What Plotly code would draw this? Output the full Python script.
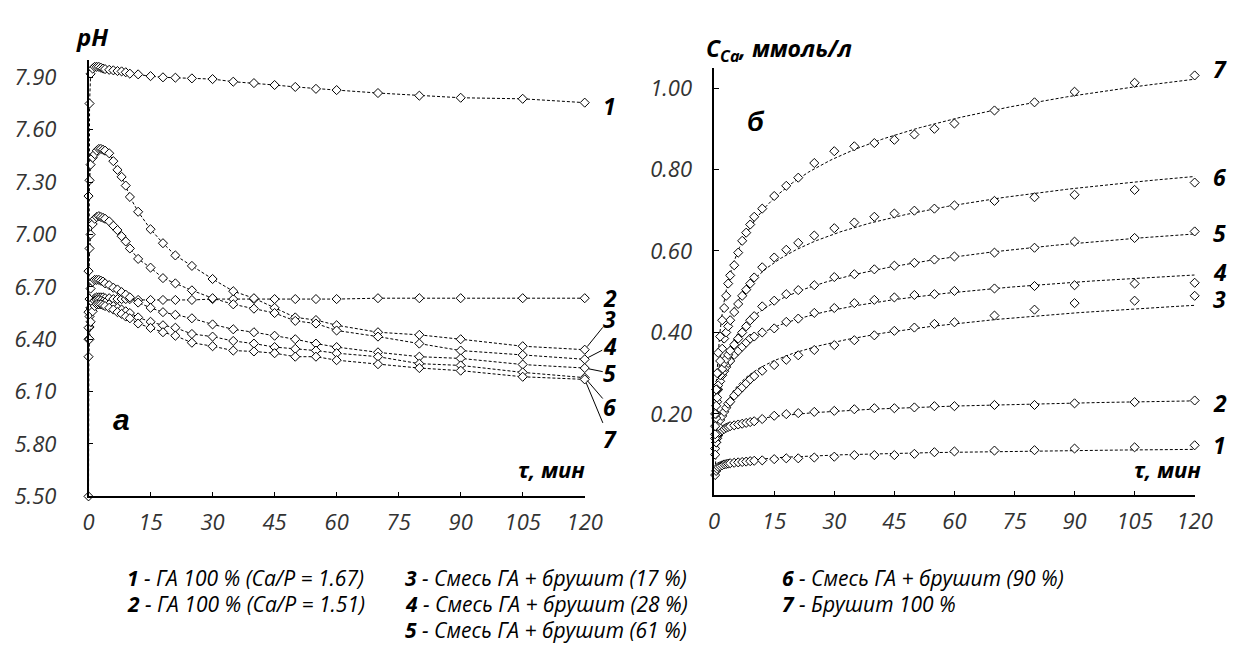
import numpy as np
import plotly.graph_objects as go

# ---------------- data ----------------
T_PH = [0, 0.25, 0.5, 1, 1.5, 2, 2.5, 3, 3.5, 4, 5, 6, 7, 8, 9, 10, 12, 15, 18, 21, 25,
        30, 35, 40, 45, 50, 55, 60, 70, 80, 90, 105, 120]

PH_1 = [5.50, 7.75, 7.92, 7.95, 7.96, 7.96, 7.96, 7.955, 7.95, 7.947, 7.943, 7.94, 7.936, 7.934,
        7.929, 7.921, 7.917, 7.907, 7.90, 7.898, 7.894, 7.89, 7.875, 7.867, 7.856, 7.845, 7.834,
        7.827, 7.81, 7.795, 7.783, 7.777, 7.755]
PH_2 = [6.40, 6.47, 6.58, 6.62, 6.635, 6.64, 6.64, 6.64, 6.64, 6.635, 6.635, 6.63, 6.63, 6.63,
        6.63, 6.63, 6.625, 6.625, 6.625, 6.625, 6.625, 6.63, 6.63, 6.63, 6.63, 6.63, 6.63,
        6.63, 6.635, 6.635, 6.635, 6.635, 6.635]
PH_3 = [7.22, 7.31, 7.40, 7.44, 7.46, 7.48, 7.49, 7.49, 7.485, 7.48, 7.465, 7.42, 7.37, 7.33,
        7.28, 7.215, 7.13, 7.03, 6.95, 6.88, 6.82, 6.745, 6.675, 6.635, 6.58, 6.525, 6.51,
        6.48, 6.44, 6.425, 6.40, 6.36, 6.34]
PH_4 = [6.79, 6.92, 7.00, 7.06, 7.09, 7.10, 7.105, 7.10, 7.095, 7.09, 7.075, 7.05, 7.025, 6.99,
        6.96, 6.92, 6.86, 6.81, 6.75, 6.72, 6.68, 6.635, 6.60, 6.575, 6.55, 6.505, 6.49,
        6.45, 6.415, 6.375, 6.335, 6.31, 6.285]
PH_5 = [6.555, 6.63, 6.69, 6.73, 6.74, 6.74, 6.74, 6.735, 6.73, 6.72, 6.71, 6.695, 6.685, 6.67,
        6.655, 6.64, 6.61, 6.58, 6.555, 6.54, 6.52, 6.485, 6.457, 6.44, 6.42, 6.40, 6.375,
        6.355, 6.325, 6.30, 6.29, 6.255, 6.235]
PH_6 = [6.466, 6.53, 6.58, 6.61, 6.62, 6.625, 6.625, 6.62, 6.615, 6.61, 6.60, 6.59, 6.58, 6.57,
        6.56, 6.55, 6.525, 6.50, 6.48, 6.466, 6.43, 6.415, 6.39, 6.375, 6.355, 6.345, 6.335,
        6.32, 6.30, 6.26, 6.25, 6.21, 6.18]
PH_7 = [6.30, 6.40, 6.50, 6.56, 6.59, 6.60, 6.60, 6.60, 6.595, 6.59, 6.58, 6.57, 6.555, 6.545,
        6.53, 6.52, 6.49, 6.465, 6.44, 6.42, 6.38, 6.36, 6.335, 6.33, 6.32, 6.30, 6.30,
        6.28, 6.257, 6.235, 6.22, 6.185, 6.17]

T_CA = [0.25, 0.5, 0.75, 1, 1.5, 2, 2.5, 3, 3.5, 4, 5, 6, 7, 8, 9, 10, 12, 15, 18, 21, 25,
        30, 35, 40, 45, 50, 55, 60, 70, 80, 90, 105, 120]

CA_1 = [0.05, 0.06, 0.065, 0.07, 0.072, 0.074, 0.076, 0.077, 0.078, 0.079, 0.08, 0.081, 0.082,
        0.083, 0.084, 0.085, 0.086, 0.089, 0.091, 0.091, 0.093, 0.095, 0.099, 0.099, 0.099,
        0.102, 0.106, 0.108, 0.110, 0.111, 0.115, 0.118, 0.123]
CA_2 = [0.115, 0.13, 0.14, 0.147, 0.155, 0.16, 0.163, 0.166, 0.168, 0.17, 0.172, 0.174, 0.176,
        0.178, 0.18, 0.182, 0.1875, 0.1955, 0.1995, 0.202, 0.205, 0.2075, 0.2115, 0.214, 0.214,
        0.216, 0.219, 0.219, 0.222, 0.222, 0.226, 0.229, 0.233]
CA_3 = [0.10, 0.13, 0.15, 0.17, 0.185, 0.195, 0.205, 0.215, 0.225, 0.23, 0.245, 0.255, 0.265,
        0.275, 0.285, 0.293, 0.306, 0.32, 0.333, 0.344, 0.357, 0.369, 0.381, 0.393, 0.404,
        0.412, 0.421, 0.425, 0.4415, 0.456, 0.472, 0.478, 0.49]
CA_4 = [0.14, 0.19, 0.23, 0.26, 0.28, 0.295, 0.305, 0.315, 0.325, 0.33, 0.345, 0.355, 0.365,
        0.375, 0.385, 0.39, 0.40, 0.41, 0.426, 0.434, 0.448, 0.46, 0.472, 0.48, 0.486,
        0.492, 0.494, 0.502, 0.508, 0.514, 0.516, 0.52, 0.522]
CA_5 = [0.15, 0.20, 0.24, 0.27, 0.295, 0.31, 0.325, 0.335, 0.345, 0.355, 0.37, 0.385, 0.40,
        0.415, 0.43, 0.44, 0.464, 0.478, 0.494, 0.504, 0.516, 0.536, 0.543, 0.555, 0.564,
        0.571, 0.579, 0.5865, 0.596, 0.608, 0.623, 0.632, 0.648]
CA_6 = [0.17, 0.22, 0.26, 0.30, 0.33, 0.36, 0.385, 0.40, 0.415, 0.43, 0.45, 0.47, 0.49,
        0.505, 0.52, 0.535, 0.56, 0.584, 0.603, 0.62, 0.638, 0.656, 0.67, 0.684, 0.692,
        0.699, 0.704, 0.712, 0.723, 0.732, 0.738, 0.75, 0.768]
CA_7 = [0.20, 0.26, 0.30, 0.35, 0.39, 0.43, 0.46, 0.49, 0.52, 0.54, 0.565, 0.596, 0.625,
        0.645, 0.665, 0.684, 0.704, 0.735, 0.76, 0.78, 0.816, 0.845, 0.857, 0.865, 0.873,
        0.886, 0.90, 0.913, 0.945, 0.965, 0.991, 1.013, 1.031]

X_TICKS = [0, 15, 30, 45, 60, 75, 90, 105, 120]
PH_TICKS = [5.5, 5.8, 6.1, 6.4, 6.7, 7.0, 7.3, 7.6, 7.9]
CA_TICKS = [0.2, 0.4, 0.6, 0.8, 1.0]

SERIES_NUMS = ["1", "2", "3", "4", "5", "6", "7"]
LEGEND_ROWS = [
    ("1", "ГА 100 % (Ca/P = 1.67)"),
    ("2", "ГА 100 % (Ca/P = 1.51)"),
    ("3", "Смесь ГА + брушит (17 %)"),
    ("4", "Смесь ГА + брушит (28 %)"),
    ("5", "Смесь ГА + брушит (61 %)"),
    ("6", "Смесь ГА + брушит (90 %)"),
    ("7", "Брушит 100 %"),
]

PH_SERIES = [PH_1, PH_2, PH_3, PH_4, PH_5, PH_6, PH_7]
CA_SERIES = [CA_1, CA_2, CA_3, CA_4, CA_5, CA_6, CA_7]

# ---------------- figure ----------------
W, H = 1239, 657
FONT = "Open Sans"
fig = go.Figure()

marker = dict(symbol="diamond", size=7, color="white", line=dict(color="black", width=1))
dash = "3px,2px"

for vals in PH_SERIES:
    fig.add_trace(go.Scatter(x=T_PH, y=vals, mode="lines+markers", xaxis="x", yaxis="y",
                             line=dict(color="black", width=1, dash=dash), marker=marker,
                             showlegend=False, cliponaxis=False, hoverinfo="x+y"))

t_arr = np.array(T_CA, dtype=float)
t_fit = np.geomspace(t_arr[0], t_arr[-1], 300)
for vals in CA_SERIES:
    b, a = np.polyfit(np.log(t_arr), np.array(vals, dtype=float), 1)
    fig.add_trace(go.Scatter(x=t_fit, y=a + b * np.log(t_fit), mode="lines", xaxis="x2", yaxis="y2",
                             line=dict(color="black", width=1, dash=dash),
                             showlegend=False, cliponaxis=False, hoverinfo="skip"))
for vals in CA_SERIES:
    fig.add_trace(go.Scatter(x=T_CA, y=vals, mode="markers", xaxis="x2", yaxis="y2",
                             marker=marker, showlegend=False, cliponaxis=False))

tickfont = dict(family=FONT, size=22, color="#333333")
axis_common = dict(showline=True, linecolor="black", linewidth=1.5, ticks="inside", ticklen=5,
                   tickcolor="black", tickwidth=1, showgrid=False, zeroline=False,
                   tickfont=tickfont, fixedrange=True)


def itick(vals, fmt):
    return [("<i>" + fmt + "</i>") % v for v in vals]


def px_x(p):
    return p / W


def px_y(p):
    return 1 - p / H


fig.update_layout(
    width=W, height=H, margin=dict(l=0, r=0, t=0, b=0),
    paper_bgcolor="white", plot_bgcolor="white",
    xaxis=dict(domain=[px_x(76), px_x(582)], range=[0, 120], tickvals=X_TICKS,
               ticktext=itick(X_TICKS, "%d"), anchor="y", ticklabelstandoff=5, **axis_common),
    yaxis=dict(domain=[px_y(499), px_y(53)], range=[5.5, 8.0], tickvals=PH_TICKS,
               ticktext=itick(PH_TICKS, "%.2f"), anchor="x", ticklabelstandoff=26,
               **axis_common),
    xaxis2=dict(domain=[px_x(714), px_x(1204)], range=[0, 120], tickvals=X_TICKS,
                ticktext=itick(X_TICKS, "%d"), anchor="y2", ticklabelstandoff=5, **axis_common),
    yaxis2=dict(domain=[px_y(498), px_y(61)], range=[0, 1.05], tickvals=CA_TICKS,
                ticktext=itick(CA_TICKS, "%.2f"), anchor="x2", ticklabelstandoff=16,
                **axis_common),
)

ann = []


def text_ann(txt, x, y, size, xanchor="center", family=FONT):
    ann.append(dict(text=txt, x=px_x(x), y=px_y(y), xref="paper", yref="paper",
                    showarrow=False, xanchor=xanchor, yanchor="middle",
                    font=dict(family=family, size=size, color="black")))


text_ann("<b><i>pH</i></b>", 80, 29, 24)
text_ann("<b><i>C<sub>Ca</sub>, ммоль/л</i></b>", 704, 42, 23, xanchor="left")
text_ann("<b><i>τ, мин</i></b>", 548, 471, 22)
text_ann("<b><i>τ, мин</i></b>", 1176, 471, 22)
text_ann("<b><i>а</i></b>", 110, 420, 30, family="Liberation Sans")
text_ann("<b><i>б</i></b>", 757, 116, 27, family="Liberation Sans")

# series number labels, left panel
num_font = dict(family=FONT, size=23, color="black")
ann.append(dict(text="<b><i>1</i></b>", x=T_PH[-1], y=PH_1[-1], xref="x", yref="y",
                showarrow=False, xshift=25, yshift=-3, font=num_font))
ann.append(dict(text="<b><i>2</i></b>", x=T_PH[-1], y=PH_2[-1], xref="x", yref="y",
                showarrow=False, xshift=25, yshift=0, font=num_font))
offsets = {"3": -31, "4": -13, "5": 5, "6": 29, "7": 60}
for num, vals in zip(SERIES_NUMS[2:], PH_SERIES[2:]):
    ann.append(dict(text="<b><i>%s</i></b>" % num, x=T_PH[-1], y=vals[-1], xref="x", yref="y",
                    showarrow=True, arrowhead=0, arrowwidth=1, arrowcolor="black",
                    ax=25, ay=offsets[num], axref="pixel", ayref="pixel", standoff=4,
                    borderpad=0, font=num_font))

# series number labels, right panel
right_label_y = [0.123, 0.228, 0.481, 0.548, 0.644, 0.781, 1.046]
for num, yv in zip(SERIES_NUMS, right_label_y):
    ann.append(dict(text="<b><i>%s</i></b>" % num, x=T_CA[-1], y=yv, xref="x2", yref="y2",
                    showarrow=False, xshift=25, borderpad=0, font=num_font))

# bottom legend text
legend_pos = [(113, 582), (113, 609), (397, 582), (397, 609), (397, 636), (781, 582), (781, 609)]
for (num, label), (lx, ly) in zip(LEGEND_ROWS, legend_pos):
    ann.append(dict(text="<b><i>%s</i></b><i> - %s</i>" % (num, label), x=px_x(lx), y=px_y(ly),
                    xref="paper", yref="paper", showarrow=False, xanchor="left",
                    yanchor="middle", font=dict(family=FONT, size=21, color="black")))

fig.update_layout(annotations=ann)
fig.write_html("out.html")
